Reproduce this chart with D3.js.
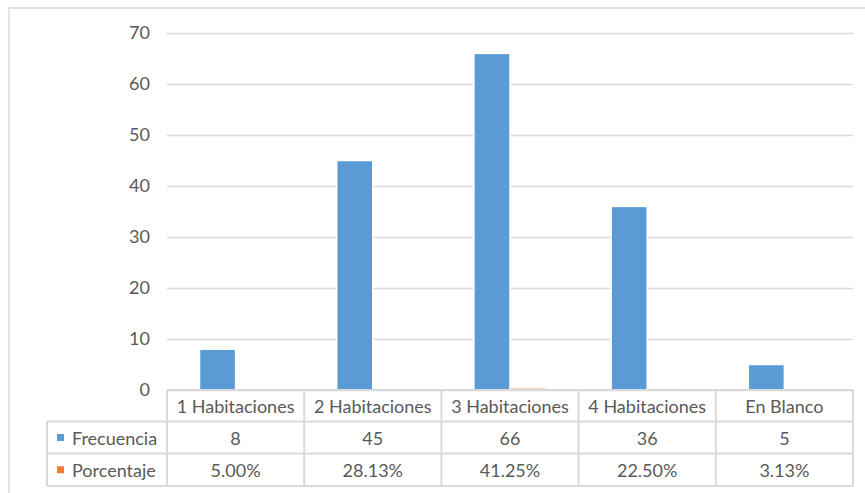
<!DOCTYPE html>
<html>
<head>
<meta charset="utf-8">
<script src="https://cdn.jsdelivr.net/npm/d3@7"></script>
<style>
  html, body { margin: 0; padding: 0; background: #fff; }
  svg { display: block; }
  text { font-family: Lato, "Open Sans", sans-serif; fill: #595959; }
</style>
</head>
<body>
<svg id="chart" width="865" height="493"></svg>
<script>
// Viviendas por número de habitaciones
const categories = ["1 Habitaciones", "2 Habitaciones", "3 Habitaciones", "4 Habitaciones", "En Blanco"];
const seriesNames = ["Frecuencia", "Porcentaje"];
const frecuencia = [8, 45, 66, 36, 5];
const porcentaje = [0.05, 0.28125, 0.4125, 0.225, 0.03125];
const yTicks = [0, 10, 20, 30, 40, 50, 60, 70];

const colors = { Frecuencia: "#5b9bd5", Porcentaje: "#ed7d31" };
const gridColor = "#d9d9d9";
const fontSize = 18;

const svg = d3.select("#chart");

// Chart frame
svg.append("rect")
  .attr("x", 9).attr("y", 8)
  .attr("width", 870).attr("height", 500)
  .attr("fill", "#fff")
  .attr("stroke", gridColor).attr("stroke-width", 1.5);

const plot = { left: 167, right: 853, top: 33, bottom: 390 };

const x = d3.scaleBand()
  .domain(categories)
  .range([plot.left, plot.right])
  .paddingInner(0).paddingOuter(0);

const xInner = d3.scaleBand()
  .domain(seriesNames)
  .range([0, x.bandwidth()])
  .paddingInner(0).paddingOuter(0.9);

const y = d3.scaleLinear()
  .domain([0, 70])
  .range([plot.bottom, plot.top]);

// Gridlines and value axis
const yAxis = svg.append("g")
  .attr("transform", `translate(${plot.left},0)`)
  .call(d3.axisLeft(y).tickValues(yTicks)
    .tickSize(-(plot.right - plot.left)).tickPadding(17));
yAxis.select(".domain").remove();
yAxis.selectAll(".tick line").attr("stroke", gridColor).attr("stroke-width", 1.5);
yAxis.selectAll(".tick text")
  .attr("fill", "#595959")
  .style("font-size", fontSize + "px")
  .style("font-family", "Lato, 'Open Sans', sans-serif");

// Columns (white outline, as in the spreadsheet style)
const rows = categories.map((c, i) => ({ cat: c, Frecuencia: frecuencia[i], Porcentaje: porcentaje[i] }));
const groups = svg.append("g").selectAll("g")
  .data(rows).join("g")
  .attr("transform", d => `translate(${x(d.cat)},0)`);
groups.selectAll("rect")
  .data(d => seriesNames.map(s => ({ s, v: d[s] })))
  .join("rect")
  .attr("x", d => xInner(d.s))
  .attr("width", xInner.bandwidth())
  .attr("y", d => y(d.v))
  .attr("height", d => y(0) - y(d.v))
  .attr("fill", d => colors[d.s])
  .attr("stroke", "#fff").attr("stroke-width", 1.5);

// Data table
const table = svg.append("g");
const rowY = [390, 421.5, 453.5, 486];
const legendLeft = 47;
const lineAttrs = sel => sel.attr("stroke", gridColor).attr("stroke-width", 2).attr("fill", "none");

// horizontal rules
table.append("line").attr("x1", plot.left).attr("x2", plot.right).attr("y1", rowY[0]).attr("y2", rowY[0]).call(lineAttrs);
[1, 2, 3].forEach(k => {
  table.append("line").attr("x1", legendLeft).attr("x2", plot.right)
    .attr("y1", rowY[k]).attr("y2", rowY[k]).call(lineAttrs);
});
// vertical rules
table.append("line").attr("x1", legendLeft).attr("x2", legendLeft)
  .attr("y1", rowY[1]).attr("y2", rowY[3]).call(lineAttrs);
categories.concat([null]).forEach((c, i) => {
  const xx = c === null ? plot.right : x(c);
  table.append("line").attr("x1", xx).attr("x2", xx)
    .attr("y1", rowY[0]).attr("y2", rowY[3]).call(lineAttrs);
});

// header row: category names
table.selectAll("text.cat")
  .data(categories).join("text")
  .attr("class", "cat")
  .attr("x", d => x(d) + x.bandwidth() / 2)
  .attr("y", (rowY[0] + rowY[1]) / 2)
  .attr("text-anchor", "middle").attr("dominant-baseline", "central")
  .style("font-size", fontSize + "px")
  .text(d => d);

// series rows
const fmtPct = d3.format(".2%");
const seriesRows = [
  { name: "Frecuencia", values: frecuencia.map(String) },
  { name: "Porcentaje", values: porcentaje.map(fmtPct) }
];
seriesRows.forEach((r, k) => {
  const cy = (rowY[k + 1] + rowY[k + 2]) / 2;
  table.append("rect")
    .attr("x", 57).attr("y", cy - 3.5)
    .attr("width", 7).attr("height", 7)
    .attr("fill", colors[r.name]);
  table.append("text")
    .attr("x", 72).attr("y", cy)
    .attr("dominant-baseline", "central")
    .style("font-size", fontSize + "px")
    .text(r.name);
  table.selectAll(null)
    .data(r.values).join("text")
    .attr("x", (d, i) => x(categories[i]) + x.bandwidth() / 2)
    .attr("y", cy)
    .attr("text-anchor", "middle").attr("dominant-baseline", "central")
    .style("font-size", fontSize + "px")
    .text(d => d);
});
</script>
</body>
</html>
